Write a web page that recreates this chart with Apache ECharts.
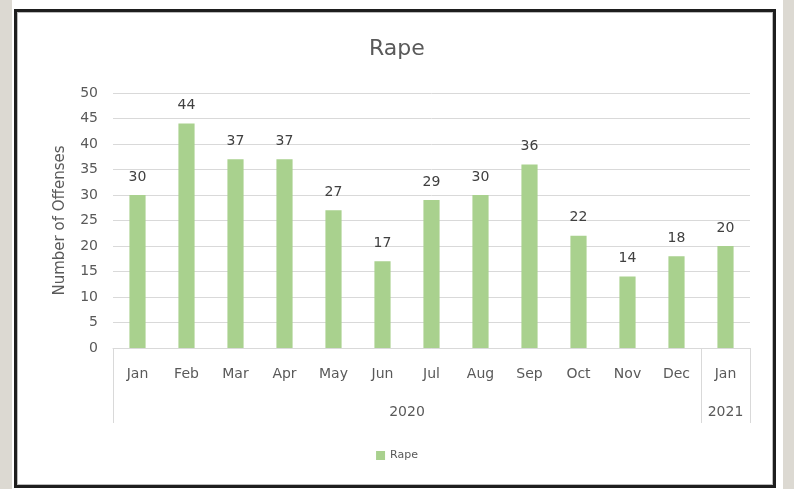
<!DOCTYPE html>
<html><head><meta charset="utf-8">
<script src="https://cdn.jsdelivr.net/npm/echarts@6/dist/echarts.min.js"></script>
<style>
html,body{margin:0;padding:0;background:#dcd9d2;width:794px;height:489px;overflow:hidden;}
#bg{position:absolute;left:12px;top:0;width:771px;height:489px;background:#fff;}
#frame{position:absolute;left:14px;top:9px;width:756px;height:473px;border:3px solid #1e1e1e;box-shadow:inset 0 0 0 1px #bbb;background:#fff;}
#chart{position:absolute;left:0;top:0;width:794px;height:489px;}
</style></head>
<body>
<div id="bg"></div><div id="frame"></div>
<div id="chart"></div>
<script>
const months = ['Jan','Feb','Mar','Apr','May','Jun','Jul','Aug','Sep','Oct','Nov','Dec','Jan'];
const values = [30,44,37,37,27,17,29,30,36,22,14,18,20];
const years = ['2020','2021'];
const yearCounts = [12,1];
const yTicks = [0,5,10,15,20,25,30,35,40,45,50];
const seriesName = 'Rape';

const bounds = [0];
yearCounts.forEach(c => bounds.push(bounds[bounds.length-1] + c));
const centers = yearCounts.map((c,i) => bounds[i] + c/2);

const chart = echarts.init(document.getElementById('chart'), null, {renderer:'canvas'});
const font = "'DejaVu Sans', sans-serif";
chart.setOption({
  backgroundColor: 'transparent',
  animation: false,
  title: {text: 'Rape', left: 364, top: 33,
    textStyle: {fontFamily: font, fontSize: 22, fontWeight: 'normal', color: '#595959'}},
  legend: {data: [seriesName], left: 'center', top: 445, itemWidth: 9, itemHeight: 9, itemGap: 6,
    icon: 'rect', textStyle: {fontFamily: font, fontSize: 11, color: '#595959'}},
  grid: {left: 113, right: 44, top: 93, bottom: 141},
  xAxis: [{
    type: 'category', data: months,
    axisLine: {show: true, lineStyle: {color: '#d9d9d9', width: 1}},
    axisTick: {show: false},
    axisLabel: {fontFamily: font, fontSize: 14, color: '#595959', margin: 19}
  },{
    type: 'value', min: 0, max: months.length, position: 'bottom',
    axisLine: {show: false}, splitLine: {show: false},
    axisTick: {show: true, customValues: bounds, length: 75, lineStyle: {color: '#d9d9d9'}},
    axisLabel: {show: true, customValues: centers, margin: 57,
      formatter: v => years[centers.indexOf(v)] || '',
      fontFamily: font, fontSize: 14, color: '#595959'}
  }],
  yAxis: {
    type: 'value', min: 0, max: 50, interval: 5,
    name: 'Number of Offenses', nameLocation: 'middle', nameGap: 45, nameRotate: 90,
    nameTextStyle: {fontFamily: font, fontSize: 15, color: '#595959'},
    axisLine: {show: false}, axisTick: {show: false},
    axisLabel: {fontFamily: font, fontSize: 14, color: '#595959', margin: 15,
      customValues: yTicks},
    splitLine: {lineStyle: {color: '#d9d9d9', width: 1}}
  },
  series: [{
    name: seriesName, type: 'bar', data: values, barWidth: '33%',
    itemStyle: {color: '#a9d18e'},
    label: {show: true, position: 'top', distance: 11, fontFamily: font, fontSize: 14, color: '#404040'}
  }]
});
</script>
</body></html>
